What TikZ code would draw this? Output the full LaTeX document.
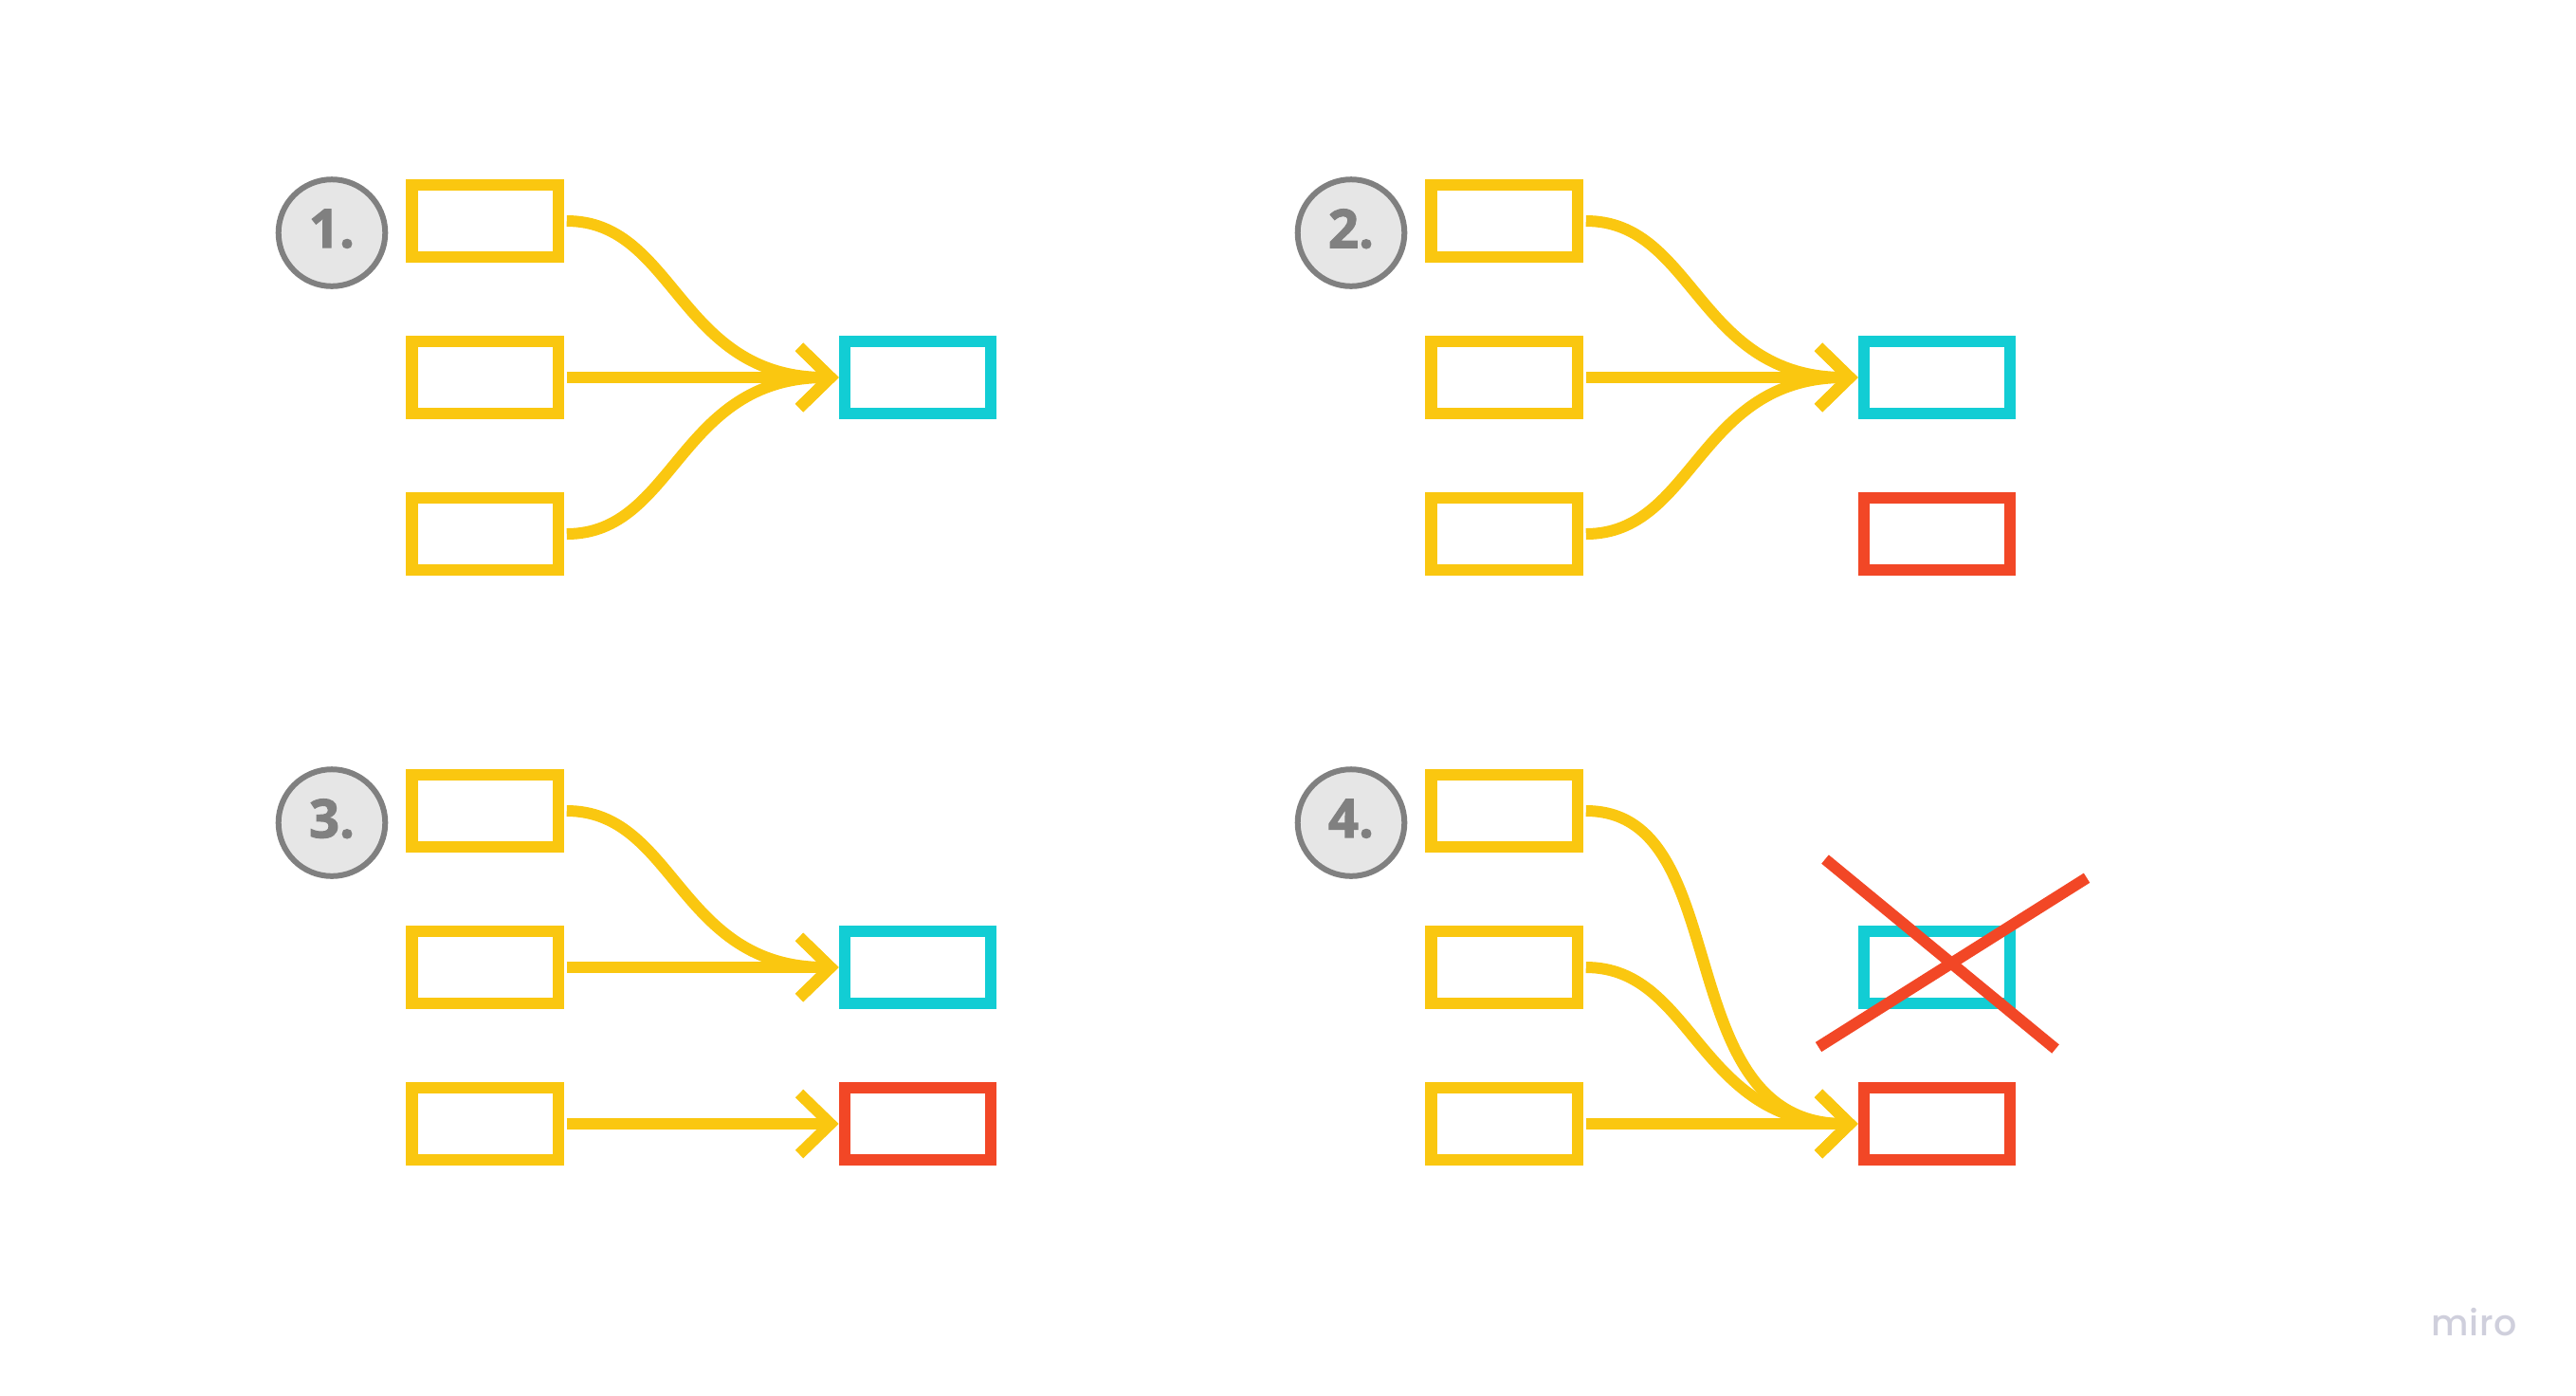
\documentclass[tikz,border=0pt]{standalone}
\usepackage{fontspec}
\setmainfont{Open Sans}
\newfontfamily\badgefont[FakeBold=2]{Open Sans Bold}
\newfontfamily\logofont[LetterSpace=1]{Poppins Medium}
\usepackage{xcolor}
\definecolor{boxyellow}{HTML}{FAC710}
\definecolor{boxcyan}{HTML}{12CDD4}
\definecolor{boxred}{HTML}{F24726}
\definecolor{badgefill}{HTML}{E6E6E6}
\definecolor{badgegray}{HTML}{808080}
\definecolor{logogray}{HTML}{CFCFDC}
\usetikzlibrary{positioning}
\usetikzlibrary{arrows.meta}
\begin{document}
\begin{tikzpicture}
        \tikzstyle{badge}=[circle,fill=badgefill,draw=badgegray,line width=0.06cm,
            minimum size=1.126cm,inner sep=0pt,text=badgegray,text depth=0.093cm,
            font=\badgefont\fontsize{16pt}{18pt}\selectfont]
        \tikzstyle{cell}=[rectangle,line width=0.123cm,minimum width=1.544cm,
            minimum height=0.754cm,inner sep=0pt]
        \tikzstyle{src}=[cell,draw=boxyellow]
        \tikzstyle{good}=[cell,draw=boxcyan]
        \tikzstyle{bad}=[cell,draw=boxred]
        \tikzstyle{flow}=[draw=boxyellow,line width=0.12cm,shorten <=0.027cm,
            -{Straight Barb[length=0.33cm,width=0.64cm]}]
        \tikzstyle{merge}=[out=0,in=180,out looseness=0.90,in looseness=1.30]
        \tikzstyle{drop}=[out=0,in=180,out looseness=0.95,in looseness=1.18]
        \tikzstyle{cross}=[draw=boxred,line width=0.12cm]

        \useasboundingbox (0,0) rectangle (27.17,-14.71);

        % first case
        \node[badge] (n1) at (3.50,-2.455) {1.};
        \node[src] (a1) at (5.117,-2.33) {};
        \node[src] (b1) at (5.117,-3.98) {};
        \node[src] (c1) at (5.117,-5.63) {};
        \node[good] (g1) at (9.68,-3.98) {};

        \draw[flow] (a1.east) to[merge] (g1.west);
        \draw[flow] (b1.east) -- (g1.west);
        \draw[flow] (c1.east) to[merge] (g1.west);

        % second case
        \node[badge] (n2) at (14.25,-2.455) {2.};
        \node[src] (a2) at (15.867,-2.33) {};
        \node[src] (b2) at (15.867,-3.98) {};
        \node[src] (c2) at (15.867,-5.63) {};
        \node[good] (g2) at (20.43,-3.98) {};
        \node[bad] (r2) at (20.43,-5.63) {};

        \draw[flow] (a2.east) to[merge] (g2.west);
        \draw[flow] (b2.east) -- (g2.west);
        \draw[flow] (c2.east) to[merge] (g2.west);

        % third case
        \node[badge] (n3) at (3.50,-8.675) {3.};
        \node[src] (a3) at (5.117,-8.55) {};
        \node[src] (b3) at (5.117,-10.20) {};
        \node[src] (c3) at (5.117,-11.85) {};
        \node[good] (g3) at (9.68,-10.20) {};
        \node[bad] (r3) at (9.68,-11.85) {};

        \draw[flow] (a3.east) to[merge] (g3.west);
        \draw[flow] (b3.east) -- (g3.west);
        \draw[flow] (c3.east) -- (r3.west);

        % fourth case
        \node[badge] (n4) at (14.25,-8.675) {4.};
        \node[src] (a4) at (15.867,-8.55) {};
        \node[src] (b4) at (15.867,-10.20) {};
        \node[src] (c4) at (15.867,-11.85) {};
        \node[good] (g4) at (20.43,-10.20) {};
        \node[bad] (r4) at (20.43,-11.85) {};

        \draw[flow] (a4.east) to[drop] (r4.west);
        \draw[flow] (b4.east) to[merge] (r4.west);
        \draw[flow] (c4.east) -- (r4.west);

        \coordinate (x1) at (19.25,-9.06);
        \coordinate (x2) at (21.68,-11.06);
        \coordinate (x3) at (22.01,-9.257);
        \coordinate (x4) at (19.18,-11.04);
        \draw[cross] (x1) -- (x2);
        \draw[cross] (x3) -- (x4);

        \node[text=logogray,anchor=base east,inner sep=0pt,
            font=\logofont\fontsize{10.8pt}{12pt}\selectfont] (logo) at (26.55,-14.08) {miro};
\end{tikzpicture}
\end{document}
